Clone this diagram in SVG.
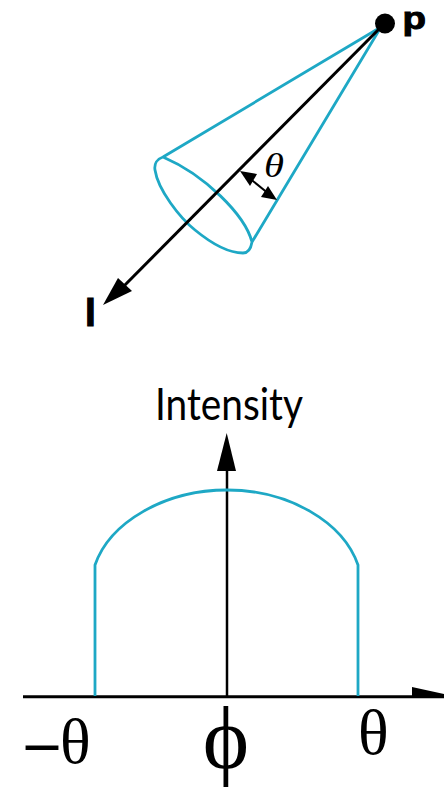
<svg xmlns="http://www.w3.org/2000/svg" width="444" height="788" viewBox="0 0 444 788">
<style>
.cy{fill:none;stroke:#1ea8c5;stroke-width:2.8;stroke-linejoin:round}
.bk{fill:none;stroke:#000;stroke-width:3}
.ah{fill:#000;stroke:none}
.sym{font-family:"Liberation Serif",serif;fill:#000}
.bold{font-family:"Liberation Sans",sans-serif;font-weight:bold;fill:#000;stroke:#000}
</style>
<rect width="444" height="788" fill="#fff"/>
<g id="cone">
<path class="cy" d="M381 27L163 157C157 159 154 164 155 170C158 190 180 218 195 230C212 244 228 253 243 253C248 253 251 248 252 242C245 215 205 175 163 157M252 242L381 27"/>
</g>
<g id="connectors">
<path class="bk" d="M381 27L118 292"/>
<path class="ah" d="M103 305L118 278L132 291Z"/>
<path class="bk" style="stroke-width:2" d="M248 177L269 194"/>
<path class="ah" d="M240 171L257 174L250 186Z"/>
<path class="ah" d="M277 200L261 197L268 186Z"/>
<path class="bk" style="stroke-width:2.5" d="M227 470V696"/>
<path class="ah" d="M226.7 433L236 471H217Z"/>
<path class="bk" d="M23 696.7H444"/>
<path class="ah" d="M412 687L444 694V696H412Z"/>
</g>
<g id="point-p">
<circle cx="385" cy="23.5" r="10" fill="#000"/>
<text class="bold" x="402.5" y="29" font-size="32" stroke-width="1" textLength="23.5" lengthAdjust="spacingAndGlyphs">p</text>
</g>
<g id="label-l"><text class="bold" x="85" y="326" font-size="39" stroke-width="1.2">l</text></g>
<g id="label-theta-cone"><text class="sym" x="264" y="177" font-size="33" font-style="italic" textLength="20" lengthAdjust="spacingAndGlyphs">θ</text></g>
<g id="label-intensity"><text x="155" y="420" font-family="Lato,sans-serif" font-size="45" textLength="148" lengthAdjust="spacingAndGlyphs" fill="#000">Intensity</text></g>
<g id="curve">
<path class="cy" d="M95 696V565C110 522 165 490 227 490C289 490 343 522 358 565V696"/>
</g>
<g id="label-minus-theta"><text class="sym" x="26 60" y="763" font-size="64"><tspan font-weight="bold">–</tspan>θ</text></g>
<g id="label-phi"><text class="sym" x="226" y="768" font-size="88" text-anchor="middle">ϕ</text></g>
<g id="label-theta"><text class="sym" x="358" y="754" font-size="64">θ</text></g>
</svg>
